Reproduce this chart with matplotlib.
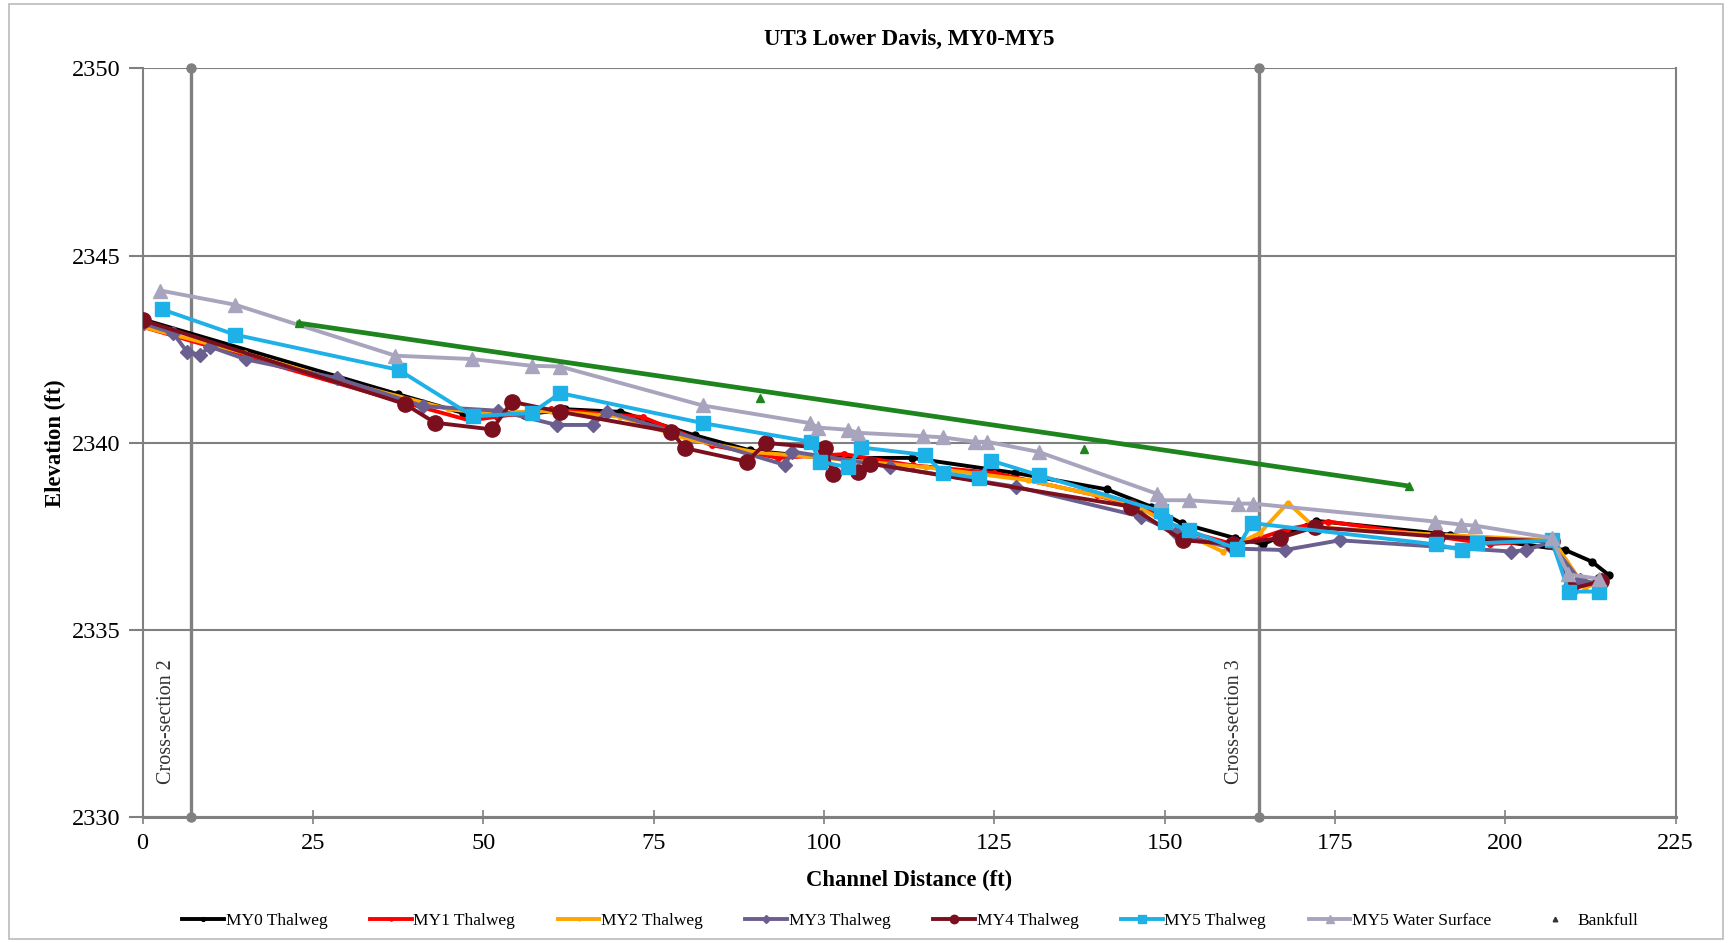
import matplotlib
matplotlib.use("Agg")
import matplotlib.pyplot as plt
from matplotlib.lines import Line2D
from matplotlib.patches import Rectangle

plt.rcParams['font.family'] = ['Liberation Serif', 'DejaVu Serif']

# ---- data ----
my0_x = [0, 37.5, 47, 56, 62, 70.1, 81.1, 89.2, 100, 112.9, 128, 141.5, 148, 152.5, 160.3, 164.5, 172.2, 191.9, 208.8, 212.7, 215.2]
my0_y = [2343.3, 2341.3, 2340.8, 2340.75, 2340.9, 2340.83, 2340.2, 2339.8, 2339.6, 2339.6, 2339.2, 2338.76, 2338.3, 2337.85, 2337.46, 2337.3, 2337.92, 2337.55, 2337.14, 2336.83, 2336.47]

my1_x = [0, 38, 48, 52, 60, 73.4, 83.5, 93.3, 103, 113, 125, 140, 148, 152, 160, 163, 168, 174, 197.8, 207, 209.5, 214]
my1_y = [2343.1, 2341.1, 2340.6, 2340.7, 2340.9, 2340.69, 2339.94, 2339.6, 2339.7, 2339.4, 2339.2, 2338.6, 2338.2, 2337.7, 2337.3, 2337.4, 2337.7, 2337.9, 2337.3, 2337.4, 2336.1, 2336.3]

my2_x = [0, 15, 30, 45, 50, 60, 70, 80, 90, 100, 115, 130, 145, 150, 155, 158.5, 164, 168.1, 172, 190, 207, 211.7, 214]
my2_y = [2343.1, 2342.4, 2341.6, 2340.9, 2340.8, 2340.85, 2340.7, 2340.1, 2339.75, 2339.6, 2339.35, 2339.0, 2338.4, 2337.9, 2337.4, 2337.1, 2337.6, 2338.4, 2337.75, 2337.55, 2337.4, 2336.13, 2336.3]

my3_x = [0, 4.5, 6.5, 8.4, 9.9, 15.2, 28.5, 41.2, 52.2, 60.8, 66.1, 68.1, 94.3, 95.3, 109.7, 128.2, 146.6, 151.7, 160, 167.6, 175.7, 200.9, 203.1, 206.5, 210.9, 213.4]
my3_y = [2343.2, 2342.93, 2342.44, 2342.35, 2342.57, 2342.23, 2341.73, 2340.98, 2340.86, 2340.48, 2340.48, 2340.83, 2339.41, 2339.77, 2339.36, 2338.83, 2338.03, 2337.59, 2337.18, 2337.14, 2337.4, 2337.1, 2337.14, 2337.35, 2336.34, 2336.25]

my4_x = [0, 38.5, 42.9, 51.3, 54.2, 61.3, 77.6, 79.6, 88.7, 91.5, 100.2, 101.3, 105.0, 106.8, 145, 152.7, 160, 166.9, 172, 190, 206.8, 209.5, 214]
my4_y = [2343.28, 2341.04, 2340.54, 2340.36, 2341.1, 2340.83, 2340.3, 2339.86, 2339.5, 2340.0, 2339.86, 2339.17, 2339.23, 2339.45, 2338.3, 2337.4, 2337.3, 2337.46, 2337.75, 2337.5, 2337.37, 2336.1, 2336.3]

my5_x = [2.8, 13.6, 37.6, 48.5, 57.1, 61.3, 82.2, 98.1, 99.4, 103.6, 105.4, 114.8, 117.5, 122.7, 124.5, 131.5, 149.5, 150.1, 153.5, 160.6, 162.8, 189.8, 193.6, 195.8, 206.8, 209.3, 213.8]
my5_y = [2343.57, 2342.89, 2341.95, 2340.71, 2340.8, 2341.33, 2340.53, 2340.03, 2339.5, 2339.35, 2339.88, 2339.68, 2339.2, 2339.06, 2339.53, 2339.14, 2338.17, 2337.9, 2337.67, 2337.17, 2337.86, 2337.29, 2337.14, 2337.32, 2337.4, 2336.03, 2336.03]

ws_x = [2.6, 13.6, 37.1, 48.3, 57.1, 61.3, 82.2, 97.9, 99.2, 103.6, 105.0, 114.6, 117.4, 122.2, 124.0, 131.5, 148.9, 149.5, 153.5, 160.8, 162.9, 189.7, 193.5, 195.6, 206.8, 209.2, 213.8]
ws_y = [2344.07, 2343.69, 2342.33, 2342.24, 2342.06, 2342.04, 2341.0, 2340.53, 2340.41, 2340.35, 2340.27, 2340.18, 2340.15, 2340.03, 2340.03, 2339.76, 2338.64, 2338.47, 2338.47, 2338.38, 2338.38, 2337.9, 2337.82, 2337.79, 2337.46, 2336.49, 2336.37]

bf_x = [22.9, 90.6, 138.1, 185.8]
bf_y = [2343.2, 2341.2, 2339.85, 2338.85]

xs_pos = [7.1, 163.9]
xs_names = ['Cross-section 2', 'Cross-section 3']

# ---- figure ----
fig = plt.figure(figsize=(17.32, 9.43), dpi=100)
ax = fig.add_axes([0.0823, 0.1332, 0.8852, 0.7942])

grid_c = '#808080'
for x, name in zip(xs_pos, xs_names):
    ax.plot([x, x], [2330, 2350], color=grid_c, lw=2.4, marker='o', ms=6.5, zorder=1, clip_on=False)

lw = 2.8
ax.plot(my0_x, my0_y, color='black', lw=lw, marker='o', ms=5, label='MY0 Thalweg', zorder=3)
ax.plot(my1_x, my1_y, color='#FF0000', lw=lw, marker='o', ms=4, label='MY1 Thalweg', zorder=3)
ax.plot(my2_x, my2_y, color='#FFA500', lw=lw, marker='o', ms=3.5, label='MY2 Thalweg', zorder=3)
ax.plot(my3_x, my3_y, color='#6B5F8F', lw=lw, marker='D', ms=7.5, label='MY3 Thalweg', zorder=3)
ax.plot(my4_x, my4_y, color='#7B0F1E', lw=lw, marker='o', ms=11, label='MY4 Thalweg', zorder=3)
ax.plot(my5_x, my5_y, color='#1EB1E8', lw=lw, marker='s', ms=10.5, label='MY5 Thalweg', zorder=4)
ax.plot(ws_x, ws_y, color='#A9A4BE', lw=lw, marker='^', ms=10, label='MY5 Water Surface', zorder=4)
ax.plot([bf_x[0], bf_x[-1]], [bf_y[0], bf_y[-1]], color='#1E841E', lw=3.4, zorder=5)
ax.plot(bf_x, bf_y, color='#1E841E', ls='none', marker='^', ms=6, zorder=5)

for x, name in zip(xs_pos, xs_names):
    ax.text(x - 3.6, 2330.9, name, rotation=90, ha='center', va='bottom',
            fontsize=14.5, color='#333333')

ax.set_xlim(0, 225)
ax.set_ylim(2330, 2350)
ax.set_xticks(range(0, 226, 25))
ax.set_yticks(range(2330, 2351, 5))
ax.yaxis.grid(True, color=grid_c, lw=1.5)
ax.set_axisbelow(True)
for s in ['left', 'right', 'bottom']:
    ax.spines[s].set_color(grid_c)
    ax.spines[s].set_linewidth(1.5)
ax.spines['bottom'].set_linewidth(2.2)
ax.spines['top'].set_visible(False)
ax.tick_params(axis='y', direction='out', length=10, width=1.5, color=grid_c, labelsize=17.5, pad=6)
ax.tick_params(axis='x', direction='inout', length=10, width=1.2, color=grid_c, labelsize=17.5, pad=6)

ax.set_title('UT3 Lower Davis, MY0-MY5', fontsize=16.5, fontweight='bold', pad=17)
ax.set_xlabel('Channel Distance (ft)', fontsize=16.3, fontweight='bold', labelpad=12)
ax.set_ylabel('Elevation (ft)', fontsize=16.3, fontweight='bold', labelpad=4)

handles, labels = ax.get_legend_handles_labels()
handles.append(Line2D([], [], color='#333333', ls='none', marker='^', ms=6))
labels.append('Bankfull')
fig.legend(handles, labels, loc='center', bbox_to_anchor=(0.5255, 0.0235), ncol=8,
           frameon=False, fontsize=12.5, handlelength=2.4, handletextpad=0.1,
           columnspacing=2.45, markerscale=0.55)

fig.patches.append(Rectangle((0.005, 0.004), 0.99, 0.992, transform=fig.transFigure,
                             fill=False, edgecolor='#BBBBBB', lw=1.2))

fig.savefig('out.png', dpi=100)
